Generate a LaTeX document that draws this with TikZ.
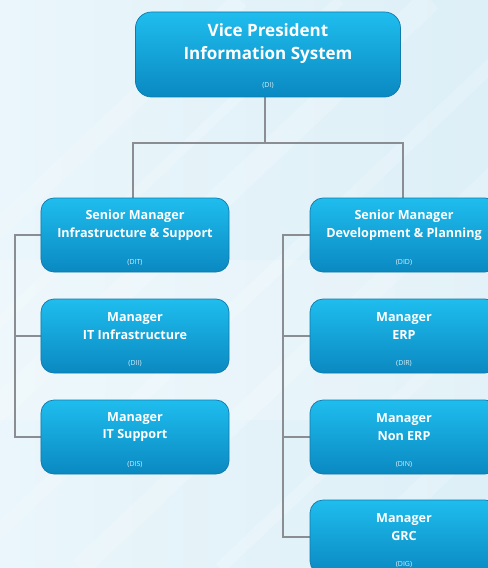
\documentclass[tikz,border=0pt]{standalone}
\usepackage{fontspec}
\setmainfont{Open Sans}
\pgfdeclarelayer{back}
\pgfdeclarelayer{lines}
\pgfsetlayers{back,lines,main}
\definecolor{bgA}{HTML}{EAF6FB}
\definecolor{bgB}{HTML}{DDEFF7}
\definecolor{boxTop}{HTML}{1FBDEE}
\definecolor{boxBot}{HTML}{0A89C1}
\definecolor{boxEdge}{HTML}{0F7AAC}
\definecolor{connC}{HTML}{8A8E92}
\tikzset{
  box/.style={rectangle, rounded corners=13bp, draw=boxEdge, line width=0.7bp,
    top color=boxTop, bottom color=boxBot, minimum width=188bp, minimum height=74bp,
    inner sep=0pt},
  vpbox/.style={box, minimum width=265bp, minimum height=85bp, rounded corners=16bp},
  title/.style={text=white, font=\bfseries\fontsize{12.6bp}{17.5bp}\selectfont, align=center, inner sep=0pt},
  vptitle/.style={title, font=\bfseries\fontsize{17bp}{23bp}\selectfont},
  code/.style={text=white, text opacity=0.85, font=\fontsize{7bp}{8bp}\selectfont, inner sep=0pt},
  conn/.style={draw=connC, line width=2.2bp},
}
\begin{document}
\begin{tikzpicture}[x=1bp, y=-1bp]
\useasboundingbox (0,0) rectangle (488,568);
\clip (0,0) rectangle (488,568);
\begin{pgfonlayer}{back}
\fill[left color=bgA, right color=bgB] (0,0) rectangle (488,568);
\foreach \o/\w in {-60/18, 40/10, 130/24, 260/14, 380/20, 520/12, 640/22}{
  \draw[white, opacity=0.18, line width=\w bp] (\o-300,568) -- (\o+300,0);
}
\fill[white, opacity=0.2] (0,260) rectangle (488,420);
\end{pgfonlayer}

% nodes
\node[vpbox] (vp) at (268,54.5) {};
\node[vptitle] (vpT) at ([yshift=11bp]vp.center) {Vice President\\Information System};
\node[code] (vpC) at ([yshift=12bp]vp.south) {(DI)};

\node[box] (dit) at (135,235) {};
\node[title] (ditT) at ([yshift=10bp]dit.center) {Senior Manager\\Infrastructure \& Support};
\node[code] (ditC) at ([yshift=10bp]dit.south) {(DIT)};

\node[box] (dii) at (135,336) {};
\node[title] (diiT) at ([yshift=10bp]dii.center) {Manager\\IT Infrastructure};
\node[code] (diiC) at ([yshift=10bp]dii.south) {(DII)};

\node[box] (dis) at (135,437) {};
\node[title] (disT) at ([yshift=10bp]dis.center) {Manager\\IT Support};
\node[code] (disC) at ([yshift=10bp]dis.south) {(DIS)};

\node[box] (did) at (404,235) {};
\node[title] (didT) at ([yshift=10bp]did.center) {Senior Manager\\Development \& Planning};
\node[code] (didC) at ([yshift=10bp]did.south) {(DID)};

\node[box] (dir) at (404,336) {};
\node[title] (dirT) at ([yshift=10bp]dir.center) {Manager\\ERP};
\node[code] (dirC) at ([yshift=10bp]dir.south) {(DIR)};

\node[box] (din) at (404,437) {};
\node[title] (dinT) at ([yshift=10bp]din.center) {Manager\\Non ERP};
\node[code] (dinC) at ([yshift=10bp]din.south) {(DIN)};

\node[box] (dig) at (404,537) {};
\node[title] (digT) at ([yshift=10bp]dig.center) {Manager\\GRC};
\node[code] (digC) at ([yshift=10bp]dig.south) {(DIG)};

% connectors (behind boxes)
\coordinate (bus) at (265,143);
\coordinate (lt) at (15,0);
\coordinate (rt) at (283,0);
\begin{pgfonlayer}{lines}
\draw[conn] ([xshift=-3bp]vp.south) -- ([xshift=-3bp]vp.south |- bus);
\draw[conn, line cap=rect] ([xshift=-2bp]dit.north) -- ([xshift=-2bp]dit.north |- bus) -- ([xshift=-1bp]did.north |- bus) -- ([xshift=-1bp]did.north);
\draw[conn] (dit.west) -- (dit.west -| lt) -- (dis.west -| lt) -- (dis.west);
\draw[conn] (dii.west) -- (dii.west -| lt);
\draw[conn] (did.west) -- (did.west -| rt) -- (dig.west -| rt) -- (dig.west);
\draw[conn] (dir.west) -- (dir.west -| rt);
\draw[conn] (din.west) -- (din.west -| rt);
\end{pgfonlayer}
\end{tikzpicture}
\end{document}
